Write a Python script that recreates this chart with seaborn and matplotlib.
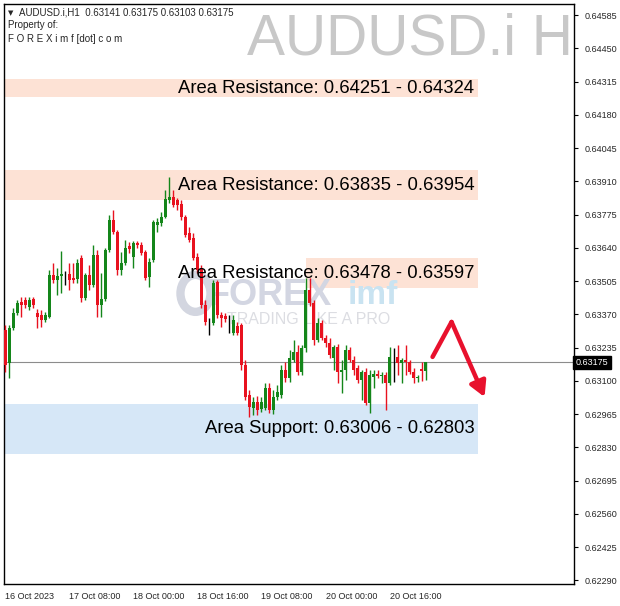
import numpy as np
import pandas as pd
import seaborn as sns
import matplotlib
matplotlib.use("Agg")
import matplotlib.pyplot as plt
from matplotlib.patches import Ellipse
import matplotlib.transforms as mtransforms

# ---------------- data ----------------
opens = [0.63306, 0.63172, 0.63314, 0.63375, 0.63420, 0.63428, 0.63399, 0.63432, 0.63375, 0.63367,
         0.63347, 0.63359, 0.63529, 0.63509, 0.63525, 0.63533, 0.63533, 0.63517, 0.63513, 0.63599,
         0.63436, 0.63529, 0.63489, 0.63611, 0.63408, 0.63432, 0.63631, 0.63753, 0.63704, 0.63550,
         0.63578, 0.63647, 0.63603, 0.63659, 0.63651, 0.63623, 0.63521, 0.63590, 0.63732, 0.63741,
         0.63765, 0.63834, 0.63846, 0.63834, 0.63818, 0.63765, 0.63700, 0.63680, 0.63603, 0.63558,
         0.63408, 0.63339, 0.63335, 0.63501, 0.63367, 0.63363, 0.63351, 0.63294, 0.63322, 0.63326,
         0.63164, 0.63042, 0.62990, 0.63014, 0.62985, 0.62990, 0.63071, 0.62981, 0.63034, 0.63042,
         0.63144, 0.63111, 0.63184, 0.63217, 0.63136, 0.63233, 0.63469, 0.63416, 0.63266, 0.63335,
         0.63274, 0.63253, 0.63193, 0.63237, 0.63136, 0.63144, 0.63225, 0.63184, 0.63152, 0.63103,
         0.63136, 0.63010, 0.63115, 0.63128, 0.63119, 0.63123, 0.63091, 0.63197, 0.63197, 0.63172,
         0.63184, 0.63176, 0.63136, 0.63111, 0.63148, 0.63141]
closes = [0.63164, 0.63314, 0.63375, 0.63416, 0.63408, 0.63408, 0.63428, 0.63408, 0.63359, 0.63347,
          0.63367, 0.63529, 0.63509, 0.63525, 0.63533, 0.63533, 0.63509, 0.63509, 0.63578, 0.63436,
          0.63529, 0.63489, 0.63611, 0.63408, 0.63432, 0.63631, 0.63753, 0.63704, 0.63550, 0.63578,
          0.63639, 0.63635, 0.63659, 0.63651, 0.63619, 0.63517, 0.63582, 0.63745, 0.63745, 0.63765,
          0.63838, 0.63846, 0.63814, 0.63814, 0.63765, 0.63691, 0.63672, 0.63599, 0.63550, 0.63408,
          0.63339, 0.63339, 0.63497, 0.63367, 0.63355, 0.63351, 0.63351, 0.63347, 0.63294, 0.63164,
          0.63034, 0.62994, 0.63014, 0.62981, 0.63014, 0.63071, 0.62981, 0.63034, 0.63055, 0.63144,
          0.63111, 0.63193, 0.63217, 0.63136, 0.63233, 0.63469, 0.63416, 0.63266, 0.63335, 0.63274,
          0.63253, 0.63205, 0.63237, 0.63136, 0.63144, 0.63225, 0.63184, 0.63144, 0.63103, 0.63136,
          0.63010, 0.63123, 0.63128, 0.63119, 0.63123, 0.63091, 0.63197, 0.63197, 0.63172, 0.63184,
          0.63176, 0.63136, 0.63111, 0.63115, 0.63140, 0.63175]
highs = [0.63326, 0.63326, 0.63395, 0.63428, 0.63440, 0.63440, 0.63440, 0.63440, 0.63391, 0.63387,
         0.63379, 0.63550, 0.63578, 0.63558, 0.63627, 0.63546, 0.63578, 0.63578, 0.63594, 0.63611,
         0.63538, 0.63570, 0.63651, 0.63631, 0.63538, 0.63639, 0.63773, 0.63793, 0.63712, 0.63623,
         0.63672, 0.63663, 0.63667, 0.63667, 0.63663, 0.63631, 0.63599, 0.63753, 0.63761, 0.63785,
         0.63874, 0.63927, 0.63874, 0.63842, 0.63834, 0.63773, 0.63724, 0.63700, 0.63619, 0.63570,
         0.63428, 0.63355, 0.63509, 0.63509, 0.63379, 0.63375, 0.63367, 0.63367, 0.63339, 0.63335,
         0.63184, 0.63063, 0.63034, 0.63038, 0.63034, 0.63091, 0.63091, 0.63063, 0.63083, 0.63164,
         0.63176, 0.63225, 0.63266, 0.63245, 0.63245, 0.63517, 0.63517, 0.63428, 0.63355, 0.63347,
         0.63286, 0.63274, 0.63245, 0.63249, 0.63184, 0.63245, 0.63237, 0.63201, 0.63164, 0.63144,
         0.63152, 0.63144, 0.63144, 0.63144, 0.63136, 0.63136, 0.63237, 0.63233, 0.63245, 0.63193,
         0.63245, 0.63184, 0.63152, 0.63123, 0.63176, 0.63175]
lows = [0.63136, 0.63111, 0.63306, 0.63367, 0.63359, 0.63395, 0.63387, 0.63395, 0.63314, 0.63318,
        0.63339, 0.63355, 0.63497, 0.63448, 0.63456, 0.63489, 0.63469, 0.63497, 0.63497, 0.63420,
        0.63428, 0.63469, 0.63481, 0.63359, 0.63359, 0.63424, 0.63623, 0.63696, 0.63529, 0.63529,
        0.63570, 0.63619, 0.63558, 0.63639, 0.63611, 0.63509, 0.63481, 0.63582, 0.63704, 0.63728,
        0.63761, 0.63822, 0.63806, 0.63793, 0.63753, 0.63684, 0.63663, 0.63590, 0.63538, 0.63395,
        0.63326, 0.63286, 0.63326, 0.63355, 0.63318, 0.63339, 0.63294, 0.63286, 0.63286, 0.63144,
        0.63022, 0.62953, 0.62961, 0.62961, 0.62973, 0.62981, 0.62969, 0.62965, 0.63022, 0.63030,
        0.63095, 0.63095, 0.63176, 0.63123, 0.63123, 0.63217, 0.63404, 0.63245, 0.63258, 0.63266,
        0.63237, 0.63193, 0.63144, 0.63091, 0.63050, 0.63103, 0.63176, 0.63123, 0.63091, 0.63022,
        0.63002, 0.62969, 0.63071, 0.63111, 0.63091, 0.62981, 0.63083, 0.63095, 0.63123, 0.63091,
        0.63123, 0.63128, 0.63091, 0.63095, 0.63099, 0.63103]

time_labels = ["16 Oct 2023", "17 Oct 08:00", "18 Oct 00:00", "18 Oct 16:00",
               "19 Oct 08:00", "20 Oct 00:00", "20 Oct 16:00"]
time_label_bars = [0, 16, 32, 48, 64, 80, 96]

price_ticks = ["0.64585", "0.64450", "0.64315", "0.64180", "0.64045", "0.63910", "0.63775",
               "0.63640", "0.63505", "0.63370", "0.63235", "0.63100", "0.62965", "0.62830",
               "0.62695", "0.62560", "0.62425", "0.62290"]

resist_labels = ["Area Resistance: 0.64251 - 0.64324",
                 "Area Resistance: 0.63835 - 0.63954",
                 "Area Resistance: 0.63478 - 0.63597"]
resist_lo = [0.64251, 0.63835, 0.63478]
resist_hi = [0.64324, 0.63954, 0.63597]
resist_start = [-1, -1, 75]
support_label = "Area Support: 0.63006 - 0.62803"
support_lo, support_hi = 0.62803, 0.63006
zone_end = 118

current_price = 0.63175
header = "AUDUSD.i,H1  0.63141 0.63175 0.63103 0.63175"
big_symbol = "AUDUSD.i H"

arrow_x = [106.75, 111.5, 119.75]
arrow_y = [0.63197, 0.63339, 0.63034]

# ---------------- figure ----------------
sns.set_style("white")
plt.rcParams['font.family'] = ['Liberation Sans', 'DejaVu Sans']

fig = plt.figure(figsize=(6.2, 6.06), dpi=100)
fig.patch.set_facecolor("white")
ax = fig.add_axes([4/620, 22/606, 570/620, 580/606])
ax.set_facecolor("white")

n = len(opens)
df = pd.DataFrame({"x": np.arange(n), "o": opens, "c": closes, "h": highs, "l": lows})
green, red = "#14861a", "#e8121f"
df["col"] = np.where(df.c > df.o, green, np.where(df.c < df.o, red, "black"))

# zones
for lo, hi, st in zip(resist_lo, resist_hi, resist_start):
    ax.fill_between([st, zone_end], lo, hi, color="#fde2d5", lw=0, zorder=1)
ax.fill_between([-1, zone_end], support_lo, support_hi, color="#d6e7f7", lw=0, zorder=1)

# watermark
ax.add_patch(Ellipse((47.5, 0.63455), 7.5, 0.00150, facecolor="none", edgecolor="#d3d6e0",
                     lw=6, zorder=1.5))
ax.text(50.5, 0.63445, "FOREX", fontsize=26, fontweight="bold", color="#d3d6e2",
        ha="left", va="center", zorder=1.5)
ax.text(85.5, 0.63445, "imf", fontsize=24, fontweight="bold", color="#c9e3f1",
        ha="left", va="center", zorder=1.5)
ax.text(55.5, 0.63350, "TRADING LIKE A PRO", fontsize=11.5, color="#dcdde2",
        ha="left", va="center", zorder=1.5)

# current price line
ax.axhline(current_price, color="#8c8c8c", lw=0.8, zorder=2)

# candles
ax.vlines(df.x, df.l, df.h, colors=df.col, lw=1, zorder=3)
body_lo = np.minimum(df.o, df.c)
body_h = np.maximum(np.abs(df.c - df.o), 0.000012)
ax.bar(df.x, body_h, bottom=body_lo, width=0.72, color=df.col, lw=0, zorder=3)

# zone texts
for lab, lo, hi in zip(resist_labels, resist_lo, resist_hi):
    ax.text(117.2, (lo + hi) / 2, lab, fontsize=13.3, ha="right", va="center", color="black", zorder=5)
ax.text(117.2, (support_lo + support_hi) / 2, support_label, fontsize=13.3, ha="right",
        va="center", color="black", zorder=5)

# big symbol
ax.text(60.5, 0.64484, big_symbol, fontsize=41, color="#c8c8c8", ha="left",
        va="center", clip_on=True, zorder=4)

# header texts
ax.text(0.007, 0.985, "\u25bc", transform=ax.transAxes, fontsize=5, ha="left", va="center",
        family=["DejaVu Sans"])
ax.text(0.027, 0.986, header, transform=ax.transAxes, fontsize=7, ha="left", va="center")
ax.text(0.007, 0.963, "Property of:", transform=ax.transAxes, fontsize=7, ha="left", va="center")
ax.text(0.007, 0.940, "F O R E X i m f [dot] c o m", transform=ax.transAxes, fontsize=7,
        ha="left", va="center")

# arrow
ax.plot(arrow_x[:2], arrow_y[:2], color="#e8112d", lw=3.2, solid_capstyle="round", zorder=6)
ax.annotate("", xy=(arrow_x[2], arrow_y[2]), xytext=(arrow_x[1], arrow_y[1]),
            arrowprops=dict(arrowstyle="-|>,head_length=0.9,head_width=0.5",
                            color="#e8112d", lw=3.2, shrinkA=0, shrinkB=0), zorder=6)

# axes
ax.set_xlim(-0.35, 142.1)
ax.set_ylim(0.62275, 0.64630)
ax.yaxis.tick_right()
ax.set_yticks([float(t) for t in price_ticks])
ax.set_yticklabels(price_ticks)
ax.set_xticks(time_label_bars)
ax.set_xticklabels(time_labels, ha="left")
ax.tick_params(axis="y", direction="out", length=3, width=0.8, labelsize=6.5, pad=5, color="black")
ax.tick_params(axis="x", direction="out", length=3, width=0.8, labelsize=6.5, pad=3, color="black")
for s in ax.spines.values():
    s.set_color("black")
    s.set_linewidth(1)

# current price tag
trans = mtransforms.blended_transform_factory(ax.transAxes, ax.transData)
ax.text(1.003, current_price, f"{current_price:.5f}", transform=trans, fontsize=6.5,
        color="white", ha="left", va="center", clip_on=False,
        bbox=dict(boxstyle="square,pad=0.25", fc="black", ec="black"))

fig.savefig("out.png", dpi=100, facecolor="white")
